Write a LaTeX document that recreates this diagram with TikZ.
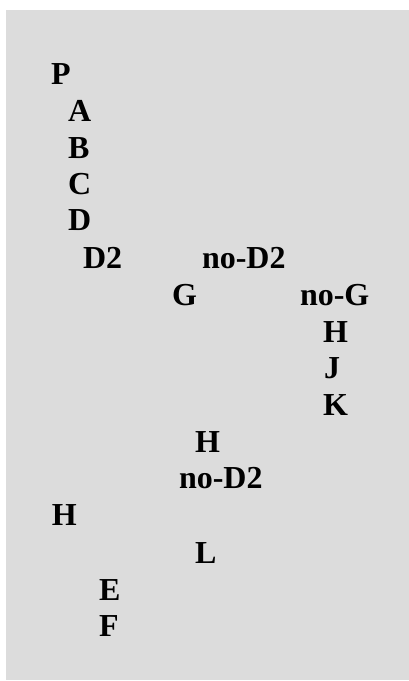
\documentclass[tikz,border=0pt]{standalone}
\usepackage{fontspec}
\setmainfont{Liberation Serif}
\definecolor{panelgray}{HTML}{DCDCDC}
\begin{document}
\begin{tikzpicture}[x=1pt,y=1pt,
  lbl/.style={anchor=base west,inner sep=0pt,outer sep=0pt,
    font=\fontsize{32}{32}\selectfont\bfseries}]
\useasboundingbox (0,0) rectangle (409,-681);
\fill[panelgray] (6,-10) rectangle (409,-680);
\node[lbl] (p)   at (51,-84)  {P};
\node[lbl] (a)   at (68,-121) {A};
\node[lbl] (b)   at (68,-158) {B};
\node[lbl] (c)   at (68,-194) {C};
\node[lbl] (d)   at (68,-230) {D};
\node[lbl] (d2)  at (83,-268) {D2};
\node[lbl] (nod2a) at (202,-268) {no-D2};
\node[lbl] (g)   at (172,-305) {G};
\node[lbl] (nog) at (300,-305) {no-G};
\node[lbl] (h1)  at (323,-342) {H};
\node[lbl] (j)   at (324,-378) {J};
\node[lbl] (k)   at (323,-415) {K};
\node[lbl] (h2)  at (195,-452) {H};
\node[lbl] (nod2b) at (179,-488) {no-D2};
\node[lbl] (h3)  at (52,-525) {H};
\node[lbl] (l)   at (195,-563) {L};
\node[lbl] (e)   at (99,-600) {E};
\node[lbl] (f)   at (99,-636) {F};
\end{tikzpicture}
\end{document}
